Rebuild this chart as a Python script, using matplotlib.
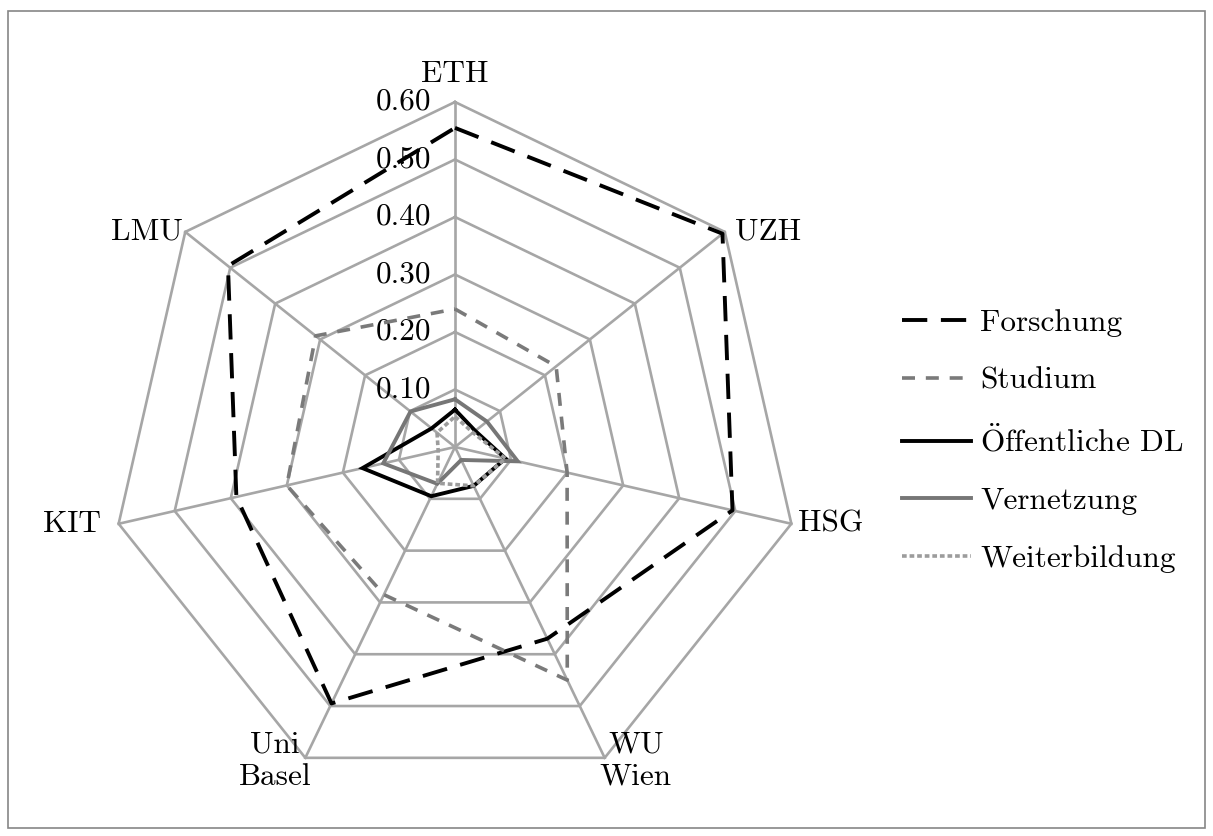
import numpy as np
import matplotlib
matplotlib.use("Agg")
import matplotlib.pyplot as plt
from matplotlib.patches import Rectangle

# ── Data ──────────────────────────────────────────────────────────────────
categories = ["ETH", "UZH", "HSG", "WU\nWien", "Uni\nBasel", "KIT", "LMU"]
levels = [0.10, 0.20, 0.30, 0.40, 0.50, 0.60]
level_labels = ["0.10", "0.20", "0.30", "0.40", "0.50", "0.60"]

forschung = [0.555, 0.595, 0.495, 0.37, 0.495, 0.39, 0.505]
studium = [0.24, 0.225, 0.20, 0.45, 0.285, 0.30, 0.31]
oeffentliche_dl = [0.065, 0.045, 0.09, 0.075, 0.095, 0.165, 0.052]
vernetzung = [0.083, 0.071, 0.112, 0.025, 0.071, 0.128, 0.099]
weiterbildung = [0.053, 0.04, 0.09, 0.075, 0.07, 0.03, 0.04]

# ── Style ─────────────────────────────────────────────────────────────────
W, H, DPI = 1213, 836, 100
CX, CY = 455, 447          # centre of the radar in pixels (from top-left)
PX_PER_UNIT = 345 / 0.6    # pixels per value unit
GRID_COLOR = "#a6a6a6"
FONT = "cmr10"
FS = 22.5

plt.rcParams["mathtext.fontset"] = "cm"
plt.rcParams["axes.formatter.use_mathtext"] = True

fig = plt.figure(figsize=(W / DPI, H / DPI), dpi=DPI, facecolor="white")
ax = fig.add_axes([0, 0, 1, 1])
ax.set_xlim(-CX / PX_PER_UNIT, (W - CX) / PX_PER_UNIT)
ax.set_ylim(-(H - CY) / PX_PER_UNIT, CY / PX_PER_UNIT)
ax.axis("off")

n = len(categories)
angles = np.arange(n) * 2 * np.pi / n


def to_xy(values):
    v = np.asarray(values, dtype=float)
    x = v * np.sin(angles)
    y = v * np.cos(angles)
    return np.append(x, x[0]), np.append(y, y[0])


# ── Grid: heptagons + spokes ──────────────────────────────────────────────
for lv in levels:
    gx, gy = to_xy([lv] * n)
    ax.plot(gx, gy, color=GRID_COLOR, lw=1.9, zorder=1)
rmax = levels[-1]
for a in angles:
    ax.plot([0, rmax * np.sin(a)], [0, rmax * np.cos(a)],
            color=GRID_COLOR, lw=1.9, zorder=1)

# radial value labels along the ETH spoke
for lv, lab in zip(levels, level_labels):
    ax.annotate(lab, xy=(0, lv), xytext=(-24, 0), textcoords="offset pixels",
                ha="right", va="center", fontsize=FS, family=FONT)

# category labels
label_offsets = [(0, 28), (43, 0), (39, 0), (31, -3), (-30, -3), (-47, 0), (-38, 0)]
for a, lab, off in zip(angles, categories, label_offsets):
    ax.annotate(lab, xy=(rmax * np.sin(a), rmax * np.cos(a)), xytext=off,
                textcoords="offset pixels", ha="center", va="center",
                fontsize=FS, family=FONT, linespacing=1.2)

# ── Series ────────────────────────────────────────────────────────────────
series = [
    ("Forschung", forschung, dict(color="black", lw=2.8, dashes=(6.5, 3.5))),
    ("Studium", studium, dict(color="#7a7a7a", lw=2.6, dashes=(3.6, 3.0))),
    (r"$\ddot{\mathrm{O}}$ffentliche DL", oeffentliche_dl, dict(color="black", lw=2.8)),
    ("Vernetzung", vernetzung, dict(color="#767676", lw=2.8)),
    ("Weiterbildung", weiterbildung,
     dict(color="#9c9c9c", lw=2.6, dashes=(1.3, 0.8))),
]
for name, vals, style in series:
    sx, sy = to_xy(vals)
    ax.plot(sx, sy, label=name, solid_joinstyle="miter", zorder=3, **style)

leg = ax.legend(loc="center left", bbox_to_anchor=(902 / W, 1 - 441 / H),
                bbox_transform=fig.transFigure, frameon=False,
                prop={"family": FONT, "size": FS}, handlelength=2.2,
                handletextpad=0.3, labelspacing=0.95, borderpad=0,
                borderaxespad=0)

# chart-area border
fig.patches.append(Rectangle((8 / W, 8 / H), (W - 16) / W, (H - 19) / H,
                             transform=fig.transFigure, fill=False,
                             edgecolor="#868686", lw=1.2))

fig.savefig("out.png", dpi=DPI, facecolor="white")
